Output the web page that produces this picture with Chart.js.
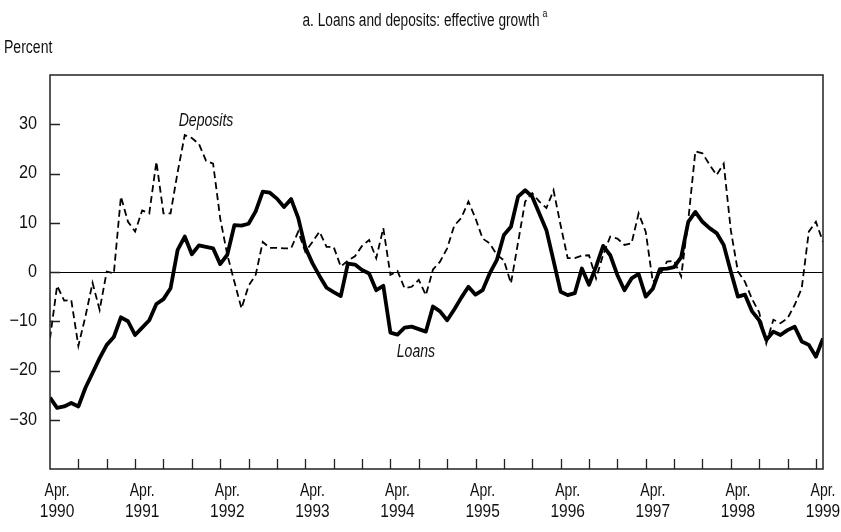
<!DOCTYPE html>
<html>
<head>
<meta charset="utf-8">
<script src="https://cdn.jsdelivr.net/npm/chart.js@4/dist/chart.umd.min.js"></script>
<style>
html,body{margin:0;padding:0;background:#fff;}
#wrap{position:relative;width:841px;height:532px;}
canvas{display:block;}
</style>
</head>
<body>
<div id="wrap"><canvas id="c" width="841" height="532"></canvas></div>
<script>
// Monthly observations, April 1990 (index 0) to May 1999 (index 109)
const loans = [
 -25.5,-27.6,-27.3,-26.6,-27.3,-23.5,-20.5,-17.5,-14.8,-13.2,
  -9.2,-10.0,-12.8,-11.3, -9.8, -6.5, -5.5, -3.3,  4.5,  7.2,
   3.6,  5.4,  5.1,  4.8,  1.6,  3.5,  9.5,  9.4,  9.8, 12.3,
  16.3, 16.1, 14.9, 13.2, 14.8, 11.0,  5.0,  1.8, -0.8, -3.2,
  -4.1, -4.9,  1.7,  1.5,  0.4, -0.3, -3.7, -2.8,-12.3,-12.7,
 -11.3,-11.1,-11.6,-12.1, -7.0, -8.0, -9.8, -7.6, -5.2, -3.0,
  -4.6, -3.7, -0.3,  2.4,  7.5,  9.2, 15.3, 16.6, 15.3, 11.9,
   8.5,  2.3, -4.0, -4.7, -4.3,  0.7, -2.6,  1.1,  5.3,  3.4,
  -0.6, -3.7, -1.3, -0.4, -5.0, -3.4,  0.6,  0.7,  1.0,  3.0,
  10.2, 12.2, 10.2,  8.9,  7.9,  5.5,  0.1, -5.0, -4.6, -8.0,
  -9.8,-13.8,-12.1,-12.8,-11.8,-11.1,-14.1,-14.8,-17.2,-13.5
];
const deposits = [
 -13.5, -2.8, -5.8, -5.7,-15.0, -9.0, -2.2, -7.7,  0.1, -0.3,
  15.3, 10.2,  8.2, 12.5, 11.9, 22.4, 11.9, 11.9, 20.3, 27.8,
  27.2, 26.0, 22.6, 22.0, 10.9,  3.5, -2.0, -7.4, -2.8, -0.6,
   6.1,  4.9,  4.9,  4.8,  4.8,  8.2,  4.1,  6.1,  8.2,  5.1,
   5.1,  1.1,  2.3,  3.2,  5.3,  6.5,  2.8,  8.9, -0.6,  0.2,
  -3.3, -3.0, -1.6, -4.7,  0.5,  2.1,  4.8,  9.4, 11.0, 14.3,
  10.9,  6.8,  5.8,  3.5,  2.4, -2.3,  6.0, 14.3, 16.0, 14.3,
  13.0, 16.6,  9.5,  2.8,  2.8,  3.3,  3.4, -1.3,  3.5,  7.2,
   6.8,  5.5,  5.8, 11.9,  8.2, -2.0, -0.6,  2.1,  2.3, -0.9,
  10.5, 24.5, 24.1, 21.8, 19.7, 22.0,  8.5,  0.1, -2.0, -5.5,
  -8.2,-14.5, -9.7,-10.4, -9.4, -6.7, -3.3,  8.2, 10.2,  6.1
];
const xTickMonths = ["Apr.","Apr.","Apr.","Apr.","Apr.","Apr.","Apr.","Apr.","Apr.","Apr."];
const xTickYears = ["1990","1991","1992","1993","1994","1995","1996","1997","1998","1999"];
const xLabelPositions = [1,13,25,37,49,61,73,85,97,109];
const xMinorTicks = [4,8,12,16,20,24,28,32,36,40,44,48,52,56,60,64,68,72,76,80,84,88,92,96,100,104,108];
const yTicks = [-30,-20,-10,0,10,20,30];
const titleText = "a. Loans and deposits: effective growth";
const titleSup = "a";
const yUnit = "Percent";
const seriesLabels = [{text:"Deposits", x:22, y:30.8},{text:"Loans", x:51.6, y:-16.2}];

const FONT = "'Liberation Sans','Arimo',Arial,sans-serif";
Chart.defaults.font.family = FONT;
Chart.defaults.color = '#111';

const toXY = arr => arr.map((v,i)=>({x:i,y:v}));

// draw text horizontally compressed (to imitate a condensed face)
function condText(ctx, text, x, y, font, sx, align){
  ctx.save();
  ctx.font = font;
  const w = ctx.measureText(text).width * sx;
  let left = x;
  if (align === 'center') left = x - w/2;
  else if (align === 'right') left = x - w;
  ctx.translate(left, y);
  ctx.scale(sx, 1);
  ctx.textAlign = 'left';
  ctx.fillText(text, 0, 0);
  ctx.restore();
  return w;
}

const decor = {
  id:'decor',
  beforeDatasetsDraw(chart){
    const {ctx, chartArea:a, scales:{y}} = chart;
    ctx.save();
    ctx.strokeStyle='#000'; ctx.lineWidth=1.2;
    const y0 = Math.round(y.getPixelForValue(0))+0.5;
    ctx.beginPath(); ctx.moveTo(a.left,y0); ctx.lineTo(a.right,y0); ctx.stroke();
    ctx.restore();
  },
  afterDraw(chart){
    const {ctx, chartArea:a, scales:{x,y}} = chart;
    ctx.save();
    ctx.strokeStyle='#222'; ctx.lineWidth=1.5;
    ctx.strokeRect(a.left, a.top, a.right-a.left, a.bottom-a.top);
    ctx.lineWidth=1.3;
    ctx.beginPath();
    yTicks.forEach(t=>{ const py=Math.round(y.getPixelForValue(t))+0.5; ctx.moveTo(a.left,py); ctx.lineTo(a.left+10,py); });
    xMinorTicks.forEach(t=>{ const px=Math.round(x.getPixelForValue(t))+0.5; ctx.moveTo(px,a.bottom); ctx.lineTo(px,a.bottom-10); });
    ctx.stroke();

    ctx.fillStyle='#111';
    ctx.textBaseline='middle';
    // x labels
    xLabelPositions.forEach((p,k)=>{
      const px = x.getPixelForValue(p);
      condText(ctx, xTickMonths[k], px, a.bottom+22, "18px "+FONT, 0.78, 'center');
      condText(ctx, xTickYears[k], px, a.bottom+43, "18px "+FONT, 0.86, 'center');
    });
    // y labels
    yTicks.forEach(t=>{
      const py = y.getPixelForValue(t);
      const s = t<0 ? '\u2212'+Math.abs(t) : String(t);
      condText(ctx, s, a.left-13, py, "18px "+FONT, 0.9, 'right');
    });
    // title
    const tfont = "18px "+FONT;
    ctx.font = tfont;
    const sx = 0.76;
    const tw = ctx.measureText(titleText).width*sx;
    const cx = 421;
    const tl = cx - tw/2;
    condText(ctx, titleText, tl, 21, tfont, sx, 'left');
    condText(ctx, titleSup, tl + tw + 3, 14, "11px "+FONT, 0.8, 'left');
    condText(ctx, yUnit, 4, 48, "18px "+FONT, 0.78, 'left');
    seriesLabels.forEach(s=>{
      condText(ctx, s.text, x.getPixelForValue(s.x), y.getPixelForValue(s.y), "italic 19px "+FONT, 0.74, 'center');
    });
    ctx.restore();
  }
};

new Chart(document.getElementById('c'), {
  type:'line',
  data:{ datasets:[
    {label:'Loans', data:toXY(loans), borderColor:'#000', borderWidth:3.8, pointRadius:0, tension:0, borderJoinStyle:'round', borderCapStyle:'butt'},
    {label:'Deposits', data:toXY(deposits), borderColor:'#000', borderWidth:1.8, borderDash:[7,4], pointRadius:0, tension:0}
  ]},
  options:{
    responsive:false, animation:false, devicePixelRatio:1,
    layout:{padding:{top:75,right:18,left:0,bottom:0}},
    plugins:{legend:{display:false}, title:{display:false}, tooltip:{enabled:false}},
    scales:{
      x:{type:'linear', min:0, max:109,
        grid:{display:false, drawTicks:false}, border:{display:false},
        afterBuildTicks(s){ s.ticks = xLabelPositions.map(v=>({value:v})); },
        afterFit(s){ s.height = 63; },
        ticks:{display:false}
      },
      y:{type:'linear', min:-40, max:40,
        grid:{display:false, drawTicks:false}, border:{display:false},
        afterBuildTicks(s){ s.ticks = yTicks.map(v=>({value:v})); },
        afterFit(s){ s.width = 50; },
        ticks:{display:false}
      }
    }
  },
  plugins:[decor]
});
</script>
</body>
</html>
